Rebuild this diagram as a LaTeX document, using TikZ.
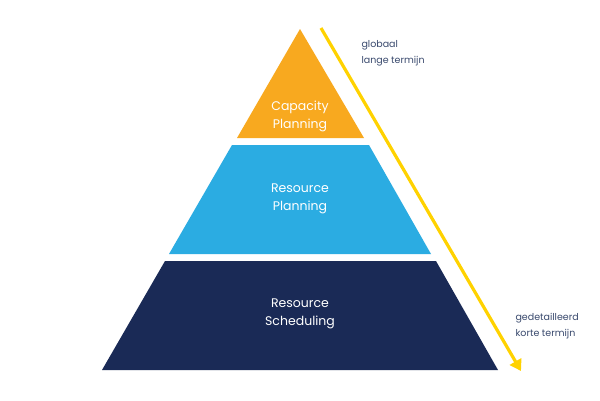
\documentclass[tikz,border=0pt]{standalone}
\usepackage{fontspec}
\setmainfont{Poppins}
\usetikzlibrary{arrows.meta}
\definecolor{cOrange}{HTML}{F8A91F}
\definecolor{cBlue}{HTML}{2BACE2}
\definecolor{cNavy}{HTML}{1A2A56}
\definecolor{cYellow}{HTML}{FFD200}
\definecolor{cText}{HTML}{3A4A6E}
\begin{document}
\begin{tikzpicture}[x=1pt,y=-1pt,
  lvl/.style={align=center,text=white,font=\fontsize{12.5}{18}\selectfont},
  side/.style={align=left,anchor=west,text=cText,font=\fontsize{9.5}{16}\selectfont}]
\useasboundingbox[fill=white] (0,0) rectangle (600,400);
\fill[cOrange] (300,29) -- (364,138) -- (237,138) -- cycle;
\fill[cBlue] (232,145) -- (369,145) -- (431,254) -- (169,254) -- cycle;
\fill[cNavy] (165,261) -- (436,261) -- (498,370) -- (102,370) -- cycle;
\node[lvl] (cp) at (300,116) {Capacity\\Planning};
\node[lvl] (rp) at (300,199) {Resource\\Planning};
\node[lvl] (rs) at (300,314) {Resource\\Scheduling};
\coordinate (a0) at (321,28);
\coordinate (a1) at (521,371);
\draw[cYellow,line width=3.2pt,-{Triangle[length=11pt,width=13pt]}] (a0) -- (a1);
\node[side] (g) at (358,53) {globaal\\lange termijn};
\node[side] (d) at (512,326) {gedetailleerd\\korte termijn};
\end{tikzpicture}
\end{document}
